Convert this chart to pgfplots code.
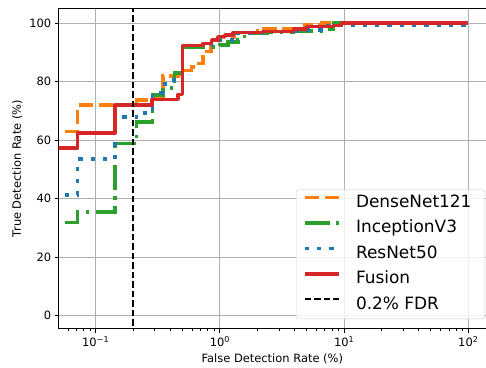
\documentclass[border=0pt]{standalone}
\usepackage{fontspec}
\setmainfont{DejaVu Sans}
\usepackage{pgfplots}
\pgfplotsset{compat=1.18}
\definecolor{cBlue}{HTML}{1F77B4}
\definecolor{cOrange}{HTML}{FF7F0E}
\definecolor{cGreen}{HTML}{2CA02C}
\definecolor{cRed}{HTML}{D62728}
\definecolor{gridgray}{HTML}{B0B0B0}
\newcommand{\tp}[1]{10\textsuperscript{#1}}
\newcommand{\legtxt}[1]{#1\hspace*{6.6bp}}
\begin{document}
\begin{tikzpicture}
\begin{axis}[
 at={(0,0)}, anchor=south west,
 scale only axis, width=427.3bp, height=320.4bp,
 xmode=log, xmin=0.0504, xmax=138.8, ymin=-4.45, ymax=105.1,
 axis x line=box, axis y line=left,
 axis line style={-, line width=0.9bp, black},
 tick pos=left, tick align=outside,
 major tick length=4bp, minor tick length=2.3bp,
 tick style={black, line width=0.9bp},
 xtick={0.1,1,10,100}, xticklabels={\tp{−1},\tp{0},\tp{1},\tp{2}},
 minor xtick={0.06,0.07,0.08,0.09,0.2,0.3,0.4,0.5,0.6,0.7,0.8,0.9,2,3,4,5,6,7,8,9,20,30,40,50,60,70,80,90},
 ytick={0,20,40,60,80,100},
 /pgf/number format/assume math mode=true,
 ticklabel style={font=\fontsize{11.5}{13.8}\selectfont},
 label style={font=\fontsize{11.5}{13.8}\selectfont},
 grid=major, major grid style={line width=0.9bp, color=gridgray},
 xlabel={False Detection Rate (\%)}, ylabel={True Detection Rate (\%)},
 legend style={at={(0.9977,0.030)}, anchor=south east,
   draw=black!20, rounded corners=2.5bp, fill=white, fill opacity=0.8, text opacity=1,
   font=\fontsize{17}{19}\selectfont, inner xsep=6.7bp, inner ysep=5bp,
   row sep=8.5bp, nodes={inner xsep=0bp, inner ysep=0bp, text height=12.5bp, text depth=4.5bp}},
 legend cell align=left,
 legend image code/.code={\draw[#1] (0bp,6bp) -- (34bp,6bp); \path (49.6bp,6bp);},
]
\addplot[cOrange, line width=3.5bp, dash pattern=on 14.5bp off 5.5bp, const plot] coordinates {
(0.0567,63.0) (0.0716,72.0) (0.214,73.8) (0.27,74.8) (0.35,82.0) (0.46,82.7) (0.50,83.8) (0.59,85.0) (0.67,86.3) (0.73,88.5) (0.78,90.3) (0.85,92.3) (0.89,94.3) (1.0,95.3) (1.3,96.8) (2.0,98.2) (4.8,99.6) (6.6,100) (100,100)};
\addlegendentry{\legtxt{DenseNet121}}
\addplot[cGreen, line width=3.5bp, dash pattern=on 25bp off 6.5bp on 3.5bp off 6.5bp, const plot] coordinates {
(0.0567,31.8) (0.0716,35.5) (0.143,58.8) (0.214,66.2) (0.288,75.5) (0.35,77.8) (0.43,82.9) (0.50,91.8) (1.0,92.6) (1.16,93.6) (1.4,94.3) (1.5,95.4) (1.75,96.4) (2.4,96.8) (3.9,97.4) (6.5,98.0) (8.2,100) (100,100)};
\addlegendentry{\legtxt{InceptionV3}}
\addplot[cBlue, line width=3.5bp, dash pattern=on 4.3bp off 8bp, const plot] coordinates {
(0.0567,41.2) (0.0716,53.5) (0.143,67.9) (0.214,69.1) (0.25,70.1) (0.288,76.2) (0.36,79.4) (0.40,80.5) (0.50,92.3) (0.85,94.3) (1.3,96.5) (2.6,97.2) (4.6,97.7) (6.5,99.2) (100,99.2)};
\addlegendentry{\legtxt{ResNet50}}
\addplot[cRed, line width=3.5bp, line join=round, const plot] coordinates {
(0.04,57.3) (0.0716,62.5) (0.143,72.0) (0.285,74.0) (0.46,75.6) (0.50,92.4) (0.73,93.1) (0.86,94.3) (0.97,95.4) (1.10,96.0) (1.28,96.8) (2.2,97.2) (3.9,98.0) (5.0,98.8) (8.2,99.2) (9.5,100) (100,100)};
\addlegendentry{\legtxt{Fusion}}
\addplot[black, line width=1.8bp, dash pattern=on 6.5bp off 3bp] coordinates {(0.2,-10) (0.2,120)};
\addlegendentry{\legtxt{0.2\% FDR}}
\end{axis}
\pgfresetboundingbox
\path[use as bounding box] (-58.7bp,-39.3bp) rectangle (427.3bp,328.7bp);
\end{tikzpicture}
\end{document}
